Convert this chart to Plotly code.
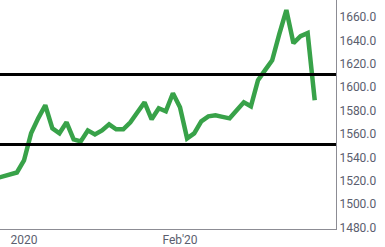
import plotly.graph_objects as go

dates = [
    "2019-12-26", "2019-12-27", "2019-12-30", "2019-12-31",
    "2020-01-02", "2020-01-03", "2020-01-06", "2020-01-07", "2020-01-08", "2020-01-09", "2020-01-10",
    "2020-01-13", "2020-01-14", "2020-01-15", "2020-01-16", "2020-01-17",
    "2020-01-20", "2020-01-21", "2020-01-22", "2020-01-23", "2020-01-24",
    "2020-01-27", "2020-01-28", "2020-01-29", "2020-01-30", "2020-01-31",
    "2020-02-03", "2020-02-04", "2020-02-05", "2020-02-06", "2020-02-07",
    "2020-02-10", "2020-02-11", "2020-02-12", "2020-02-13", "2020-02-14",
    "2020-02-17", "2020-02-18", "2020-02-19", "2020-02-20", "2020-02-21",
    "2020-02-24", "2020-02-25", "2020-02-26", "2020-02-27", "2020-02-28",
]
prices = [
    1522.0, 1523.7, 1525.4, 1527.1,
    1537.4, 1560.6, 1573.4, 1584.6, 1564.9, 1560.6, 1570.0,
    1555.4, 1553.7, 1563.1, 1559.7, 1563.1,
    1568.3, 1564.0, 1564.0, 1570.0, 1578.6,
    1587.1, 1572.6, 1582.0, 1579.4, 1594.9,
    1582.9, 1556.3, 1560.6, 1570.9, 1575.1,
    1576.0, 1574.7, 1573.4, 1580.3, 1587.1,
    1583.7, 1606.0, 1614.6, 1623.1, 1645.4,
    1666.0, 1637.7, 1643.7, 1646.3, 1588.9,
]
levels = [1611.0, 1551.0]
tick_dates = ["2020-01-02", "2020-02-03"]
tick_labels = ["2020", "Feb'20"]
y_ticks = [1480, 1500, 1520, 1540, 1560, 1580, 1600, 1620, 1640, 1660]

fig = go.Figure()
fig.add_trace(go.Scatter(
    x=dates, y=prices, mode="lines",
    line=dict(color="#38a249", width=4.5),
    hoverinfo="skip", showlegend=False,
))

for lv in levels:
    fig.add_shape(type="line", xref="paper", x0=0, x1=1, yref="y", y0=lv, y1=lv,
                  line=dict(color="#000000", width=3), layer="above")

fig.update_layout(
    width=385, height=247,
    margin=dict(l=0, r=49, t=0, b=18),
    paper_bgcolor="white", plot_bgcolor="white",
    font=dict(family="Roboto", size=12, color="#5b5e6e"),
    showlegend=False,
)
fig.update_xaxes(
    type="category", range=[0.615, 48.0],
    tickvals=tick_dates, ticktext=tick_labels,
    showgrid=False, zeroline=False,
    showline=True, linecolor="#8c8c94", linewidth=1,
    ticks="", tickfont=dict(size=12, color="#5b5e6e"),
)
fig.update_yaxes(
    side="right", range=[1478.8, 1674.6],
    tickvals=y_ticks, tickformat=".1f",
    showgrid=False, zeroline=False,
    showline=True, linecolor="#8c8c94", linewidth=1,
    ticks="", tickfont=dict(size=12, color="#5b5e6e"),
)

fig.write_html("out.html")
